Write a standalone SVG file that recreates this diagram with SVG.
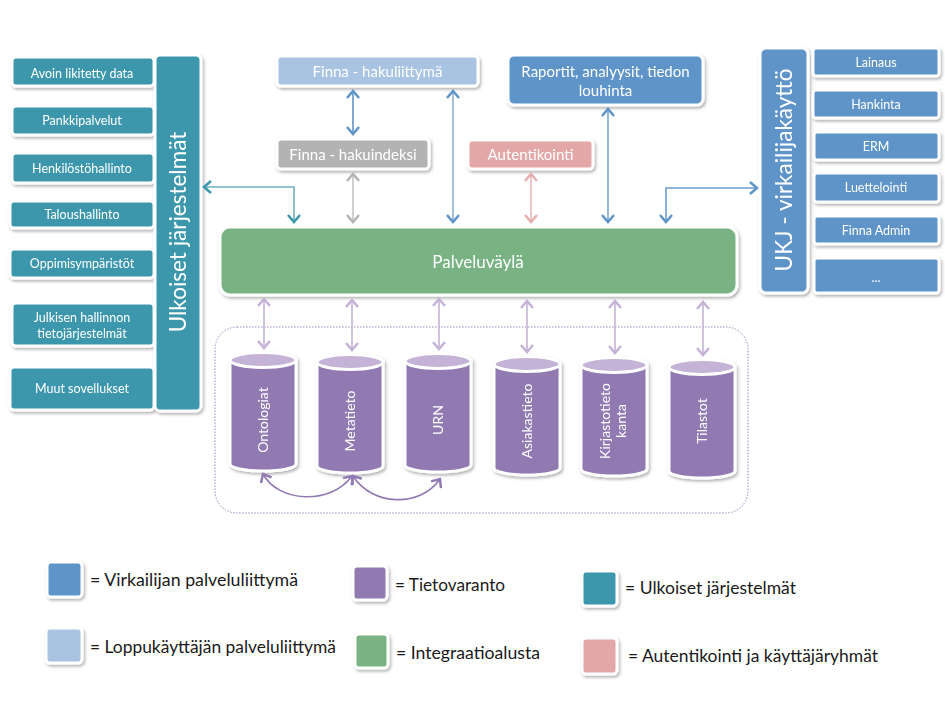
<svg xmlns="http://www.w3.org/2000/svg" width="945" height="705" viewBox="0 0 945 705">
<style>
text{font-family:Lato,"Open Sans","Liberation Sans",sans-serif;}
.w{fill:#fff;text-anchor:middle;}
.t12{font-size:12.5px;}
.t14{font-size:15px;}
.box{stroke:#fff;stroke-width:3;}
.teal{fill:#3d97ac;}
.blue{fill:#5f94c9;}
.lblue{fill:#a9c4e3;}
.gray{fill:#b3b3b3;}
.pink{fill:#e2a7a6;}
.green{fill:#79b383;}
.purple{fill:#917ab2;}
.lav{fill:#c4b3d6;}
.leg{font-size:17px;fill:#1a1a1a;}
.c{fill:none;stroke-width:1.6;}
.cy{font-size:14px;}
</style>
<defs>
<filter id="sh" x="-20%" y="-20%" width="140%" height="140%">
<feDropShadow dx="1.5" dy="2" stdDeviation="1.5" flood-color="#000" flood-opacity="0.3"/>
</filter>
<marker id="mBlue" viewBox="-1 -7 10 14" refX="7" refY="0" markerWidth="10" markerHeight="14" markerUnits="userSpaceOnUse" orient="auto-start-reverse"><path d="M0,-6 L7,0 L0,6" fill="none" stroke="#5f94c9" stroke-width="2.5"/></marker>
<marker id="mGray" viewBox="-1 -7 10 14" refX="7" refY="0" markerWidth="10" markerHeight="14" markerUnits="userSpaceOnUse" orient="auto-start-reverse"><path d="M0,-6 L7,0 L0,6" fill="none" stroke="#b3b3b3" stroke-width="2.5"/></marker>
<marker id="mPink" viewBox="-1 -7 10 14" refX="7" refY="0" markerWidth="10" markerHeight="14" markerUnits="userSpaceOnUse" orient="auto-start-reverse"><path d="M0,-6 L7,0 L0,6" fill="none" stroke="#e8aeae" stroke-width="2.5"/></marker>
<marker id="mTeal" viewBox="-1 -7 10 14" refX="7" refY="0" markerWidth="10" markerHeight="14" markerUnits="userSpaceOnUse" orient="auto-start-reverse"><path d="M0,-6 L7,0 L0,6" fill="none" stroke="#3d97ac" stroke-width="2.5"/></marker>
<marker id="mLav" viewBox="-1 -7 10 14" refX="7" refY="0" markerWidth="10" markerHeight="14" markerUnits="userSpaceOnUse" orient="auto-start-reverse"><path d="M0,-6 L7,0 L0,6" fill="none" stroke="#c4b3d6" stroke-width="2.5"/></marker>
<marker id="mPur" viewBox="-1 -7 10 14" refX="7" refY="0" markerWidth="10" markerHeight="14" markerUnits="userSpaceOnUse" orient="auto-start-reverse"><path d="M0,-6 L7,0 L0,6" fill="none" stroke="#917ab2" stroke-width="2.5"/></marker>
</defs>
<rect width="945" height="705" fill="#fff"/>

<!-- container -->
<rect id="tietovaranto-container" x="215" y="327" width="533" height="186" rx="22" fill="none" stroke="#9b86bd" stroke-width="1" stroke-dasharray="1.5,1.5"/>

<!-- left external systems -->
<g id="avoin" filter="url(#sh)"><rect class="box teal" x="12" y="57" width="142" height="29" rx="4"/><text class="w t12" x="82" y="77.5">Avoin likitetty data</text></g>
<g id="pankki" filter="url(#sh)"><rect class="box teal" x="12" y="106" width="142" height="29" rx="4"/><text class="w t12" x="82" y="125">Pankkipalvelut</text></g>
<g id="henkilosto" filter="url(#sh)"><rect class="box teal" x="12" y="153" width="142" height="30" rx="4"/><text class="w t12" x="82" y="172.5">Henkilöstöhallinto</text></g>
<g id="talous" filter="url(#sh)"><rect class="box teal" x="10" y="201" width="144" height="27" rx="4"/><text class="w t12" x="82" y="219">Taloushallinto</text></g>
<g id="oppimis" filter="url(#sh)"><rect class="box teal" x="10" y="249" width="144" height="29" rx="4"/><text class="w t12" x="82" y="268">Oppimisympäristöt</text></g>
<g id="julkisen" filter="url(#sh)"><rect class="box teal" x="12" y="303" width="142" height="43" rx="4"/><text class="w t12" x="82" y="322">Julkisen hallinnon</text><text class="w t12" x="82" y="338">tietojärjestelmät</text></g>
<g id="muut" filter="url(#sh)"><rect class="box teal" x="10" y="367" width="144" height="43" rx="4"/><text class="w t12" x="82" y="393">Muut sovellukset</text></g>
<g id="ulkoiset" filter="url(#sh)"><rect class="box teal" x="155" y="55" width="46" height="356" rx="5"/><text class="w" font-size="22.5" transform="translate(186,232) rotate(-90)">Ulkoiset järjestelmät</text></g>

<!-- top services -->
<g id="finna-hakuliittyma" filter="url(#sh)"><rect class="box lblue" x="277" y="56" width="201" height="30" rx="4"/><text class="w t14" x="377.5" y="76.5">Finna - hakuliittymä</text></g>
<g id="raportit" filter="url(#sh)"><rect class="box blue" x="508" y="55" width="195" height="50" rx="6"/><text class="w t14" x="605.5" y="77">Raportit, analyysit, tiedon</text><text class="w t14" x="605.5" y="96">louhinta</text></g>
<g id="finna-hakuindeksi" filter="url(#sh)"><rect class="box gray" x="277" y="139" width="152" height="30" rx="4"/><text class="w t14" x="353" y="159.5">Finna - hakuindeksi</text></g>
<g id="autentikointi" filter="url(#sh)"><rect class="box pink" x="468" y="140" width="125" height="29" rx="4"/><text class="w t14" x="530.5" y="160">Autentikointi</text></g>

<!-- service bus -->
<g id="palveluvayla" filter="url(#sh)"><rect class="box green" x="220" y="227" width="517" height="68" rx="10"/><text class="w" font-size="17" x="478" y="268">Palveluväylä</text></g>

<!-- right staff use -->
<g id="ukj" filter="url(#sh)"><rect class="box blue" x="760" y="48" width="48" height="245" rx="6"/><text class="w" font-size="22.5" transform="translate(792,170) rotate(-90)">UKJ - virkailijakäyttö</text></g>
<g id="lainaus" filter="url(#sh)"><rect class="box blue" x="813" y="48" width="126" height="28" rx="3"/><text class="w t12" x="876" y="67">Lainaus</text></g>
<g id="hankinta" filter="url(#sh)"><rect class="box blue" x="813" y="90" width="126" height="28" rx="3"/><text class="w t12" x="876" y="109">Hankinta</text></g>
<g id="erm" filter="url(#sh)"><rect class="box blue" x="814" y="132" width="125" height="28" rx="3"/><text class="w t12" x="876" y="151">ERM</text></g>
<g id="luettelointi" filter="url(#sh)"><rect class="box blue" x="814" y="173" width="125" height="29" rx="3"/><text class="w t12" x="876" y="192">Luettelointi</text></g>
<g id="finna-admin" filter="url(#sh)"><rect class="box blue" x="814" y="216" width="125" height="28" rx="3"/><text class="w t12" x="876" y="235">Finna Admin</text></g>
<g id="more" filter="url(#sh)"><rect class="box blue" x="814" y="258" width="125" height="35" rx="3"/><text class="w t12" x="876" y="282">...</text></g>

<!-- cylinders -->
<g id="ontologiat" filter="url(#sh)"><path class="box purple" d="M230,360 V464 A33,7 0 0 0 296,464 V360 Z"/><ellipse class="box lav" cx="263" cy="360" rx="33" ry="7.5"/><text class="w cy" transform="translate(268,420) rotate(-90)">Ontologiat</text></g>
<g id="metatieto" filter="url(#sh)"><path class="box purple" d="M317,362 V466 A33,7 0 0 0 383,466 V362 Z"/><ellipse class="box lav" cx="350" cy="362" rx="33" ry="7.5"/><text class="w cy" transform="translate(355,421) rotate(-90)">Metatieto</text></g>
<g id="urn" filter="url(#sh)"><path class="box purple" d="M405,361 V465 A33,7 0 0 0 471,465 V361 Z"/><ellipse class="box lav" cx="438" cy="361" rx="33" ry="7.5"/><text class="w cy" transform="translate(443,420) rotate(-90)">URN</text></g>
<g id="asiakastieto" filter="url(#sh)"><path class="box purple" d="M494,364 V468 A33,7 0 0 0 560,468 V364 Z"/><ellipse class="box lav" cx="527" cy="364" rx="33" ry="7.5"/><text class="w cy" transform="translate(532,421) rotate(-90)">Asiakastieto</text></g>
<g id="kirjastotietokanta" filter="url(#sh)"><path class="box purple" d="M581,365 V469 A33,7 0 0 0 647,469 V365 Z"/><ellipse class="box lav" cx="614" cy="365" rx="33" ry="7.5"/><text class="w cy" transform="translate(610,421) rotate(-90)">Kirjastotieto</text><text class="w cy" transform="translate(626,421) rotate(-90)">kanta</text></g>
<g id="tilastot" filter="url(#sh)"><path class="box purple" d="M669,367 V471 A33,7 0 0 0 735,471 V367 Z"/><ellipse class="box lav" cx="702" cy="367" rx="33" ry="7.5"/><text class="w cy" transform="translate(707,421) rotate(-90)">Tilastot</text></g>

<!-- connectors -->
<g id="connectors">
<path class="c" stroke="#5f94c9" d="M353,91 V134" marker-start="url(#mBlue)" marker-end="url(#mBlue)"/>
<path class="c" stroke="#c4c4c4" d="M353,174 V222" marker-start="url(#mGray)" marker-end="url(#mGray)"/>
<path class="c" stroke="#8fb0da" d="M453,91 V222" marker-start="url(#mBlue)" marker-end="url(#mBlue)"/>
<path class="c" stroke="#ecb8b8" d="M531,174 V222" marker-start="url(#mPink)" marker-end="url(#mPink)"/>
<path class="c" stroke="#7aa6d4" d="M608,109 V222" marker-start="url(#mBlue)" marker-end="url(#mBlue)"/>
<path class="c" stroke="#6fb0c2" d="M204,187 H294 V222" marker-start="url(#mTeal)" marker-end="url(#mTeal)"/>
<path class="c" stroke="#6c9dd0" d="M666,222 V188 H757" marker-start="url(#mBlue)" marker-end="url(#mBlue)"/>
<path class="c" stroke="#c4b3d6" d="M264,299 V348" marker-start="url(#mLav)" marker-end="url(#mLav)"/>
<path class="c" stroke="#c4b3d6" d="M352,300 V350" marker-start="url(#mLav)" marker-end="url(#mLav)"/>
<path class="c" stroke="#c4b3d6" d="M439,299 V349" marker-start="url(#mLav)" marker-end="url(#mLav)"/>
<path class="c" stroke="#c4b3d6" d="M527,301 V352" marker-start="url(#mLav)" marker-end="url(#mLav)"/>
<path class="c" stroke="#c4b3d6" d="M615,301 V353" marker-start="url(#mLav)" marker-end="url(#mLav)"/>
<path class="c" stroke="#c4b3d6" d="M703,302 V355" marker-start="url(#mLav)" marker-end="url(#mLav)"/>
<path class="c" stroke="#917ab2" d="M263,474 C278,502 330,506 352,476" marker-start="url(#mPur)" marker-end="url(#mPur)"/>
<path class="c" stroke="#917ab2" d="M353,476 C372,506 420,508 440,479" marker-start="url(#mPur)" marker-end="url(#mPur)"/>
</g>

<!-- legend -->
<g id="legend">
<g filter="url(#sh)"><rect class="box blue" x="47" y="562" width="35" height="35" rx="4"/></g>
<text class="leg" x="90" y="586" textLength="208" lengthAdjust="spacingAndGlyphs">= Virkailijan palveluliittymä</text>
<g filter="url(#sh)"><rect class="box purple" x="353" y="566" width="34" height="34" rx="4"/></g>
<text class="leg" x="395" y="591" textLength="110" lengthAdjust="spacingAndGlyphs">= Tietovaranto</text>
<g filter="url(#sh)"><rect class="box teal" x="582" y="571" width="35" height="35" rx="4"/></g>
<text class="leg" x="625" y="594" textLength="171" lengthAdjust="spacingAndGlyphs">= Ulkoiset järjestelmät</text>
<g filter="url(#sh)"><rect class="box lblue" x="46" y="628" width="36" height="35" rx="4"/></g>
<text class="leg" x="90" y="653" textLength="246" lengthAdjust="spacingAndGlyphs">= Loppukäyttäjän palveluliittymä</text>
<g filter="url(#sh)"><rect class="box green" x="355" y="634" width="33" height="34" rx="4"/></g>
<text class="leg" x="396" y="659" textLength="144" lengthAdjust="spacingAndGlyphs">= Integraatioalusta</text>
<g filter="url(#sh)"><rect class="box pink" x="582" y="638" width="35" height="36" rx="4"/></g>
<text class="leg" x="628" y="662" textLength="250" lengthAdjust="spacingAndGlyphs">= Autentikointi ja käyttäjäryhmät</text>
</g>
</svg>
